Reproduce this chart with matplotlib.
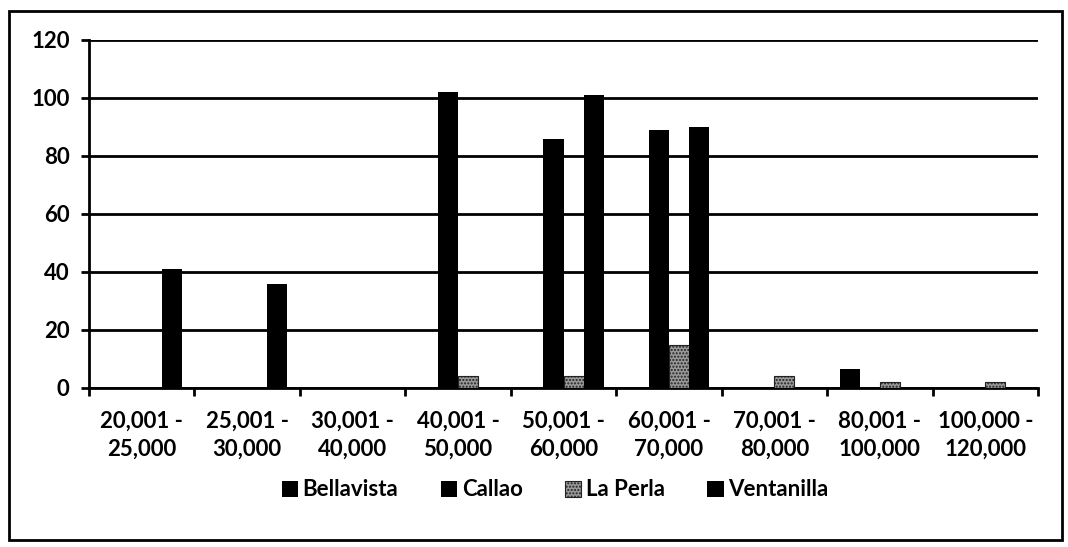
import numpy as np
import matplotlib.pyplot as plt
from matplotlib.patches import Rectangle

plt.rcParams['font.family'] = ['Lato', 'DejaVu Sans']
plt.rcParams['hatch.linewidth'] = 1.0

#=============== data ===============
categories = ['20,001 -\n25,000', '25,001 -\n30,000', '30,001 -\n40,000',
              '40,001 -\n50,000', '50,001 -\n60,000', '60,001 -\n70,000',
              '70,001 -\n80,000', '80,001 -\n100,000', '100,000 -\n120,000']
series_names = ['Bellavista', 'Callao', 'La Perla', 'Ventanilla']
bellavista = [0, 0, 0, 0, 0, 0, 0, 6.5, 0]
callao = [0, 0, 0, 102, 86, 89, 0, 0, 0]
la_perla = [0, 0, 0, 4, 4, 15, 4, 2, 2]
ventanilla = [41, 36, 0, 0, 101, 90, 0, 0, 0]
yticks = [0, 20, 40, 60, 80, 100, 120]
#====================================

fig = plt.figure(figsize=(10.68, 5.47), dpi=100)
ax = fig.add_axes([89/1068, 1-388/547, (1038-89)/1068, (388-40)/547])

x = np.arange(len(categories))
w = 0.19
all_series = [bellavista, callao, la_perla, ventanilla]
styles = [dict(color='black'), dict(color='black'),
          dict(facecolor='#999999', edgecolor='#222222', hatch='.....', linewidth=0.8),
          dict(color='black')]
for i, (vals, st) in enumerate(zip(all_series, styles)):
    ax.bar(x + (i - 1.5) * w, vals, w, label=series_names[i], zorder=3, **st)

ax.set_xlim(-0.5, len(categories) - 0.5)
ax.set_ylim(0, 120)
ax.set_yticks(yticks)
ax.set_yticklabels([str(t) for t in yticks], fontsize=16, fontweight='bold')
ax.yaxis.grid(True, color='black', linewidth=2, zorder=0)
ax.set_axisbelow(True)

ax.set_xticks(x)
ax.set_xticklabels(categories, fontsize=16, fontweight='bold', linespacing=1.45)
ax.set_xticks(np.arange(-0.5, len(categories)), minor=True)
ax.tick_params(axis='x', which='major', length=0, pad=16)
ax.tick_params(axis='x', which='minor', length=6, width=2, direction='out')
ax.tick_params(axis='y', length=6, width=2, direction='out', pad=8)

for s in ['top', 'right']:
    ax.spines[s].set_visible(False)
ax.spines['left'].set_linewidth(2)
ax.spines['bottom'].set_linewidth(2)

leg = fig.legend(loc='center', bbox_to_anchor=(555/1068, 1-490/547), ncol=4,
                 frameon=False, fontsize=16, handlelength=0.75, handleheight=0.75,
                 handletextpad=0.2, columnspacing=1.9)
for t in leg.get_texts():
    t.set_fontweight('bold')

fig.patches.append(Rectangle((9/1068, 7/547), (1062-9)/1068, (540-11)/547,
                             transform=fig.transFigure, fill=False,
                             edgecolor='black', linewidth=2))

fig.savefig('out.png', dpi=100)
